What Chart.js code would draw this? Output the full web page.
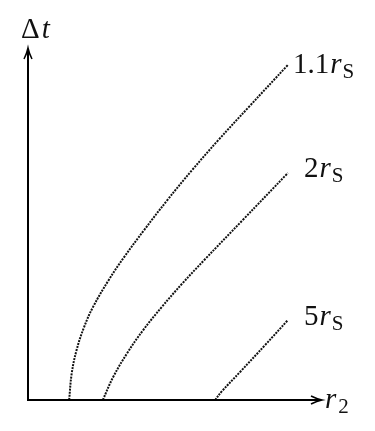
<!DOCTYPE html>
<html>
<head>
<meta charset="utf-8">
<script src="https://cdn.jsdelivr.net/npm/chart.js@4"></script>
<style>
  html, body { margin: 0; padding: 0; background: #fff; }
  #wrap { width: 375px; height: 431px; }
</style>
</head>
<body>
<div id="wrap"><canvas id="myChart"></canvas></div>
<script>
// r2 in units of r_S, delta t in units of r_S/c
const r2_a = [1.10, 1.17, 1.30, 1.50, 1.74, 2.16, 2.57, 3.11, 3.73, 4.39, 5.09, 5.90, 6.95];
const dt_a = [0.00, 0.72, 1.34, 1.95, 2.49, 3.21, 3.82, 4.55, 5.35, 6.15, 6.95, 7.83, 8.96];

const r2_b = [2.00, 2.28, 2.65, 3.08, 3.58, 4.13, 4.72, 5.74, 6.95];
const dt_b = [0.00, 0.62, 1.25, 1.87, 2.49, 3.12, 3.75, 4.81, 6.07];

const r2_c = [5.00, 5.19, 5.67, 6.34, 6.95];
const dt_c = [0.00, 0.24, 0.75, 1.47, 2.14];

const curveNames = ['1.1', '2', '5'];
const xMax = 7.86;
const yMax = 9.41;

const SERIF = '"Liberation Serif", "DejaVu Serif", "Times New Roman", serif';

function toPoints(xs, ys) {
  return xs.map((x, i) => ({ x: x, y: ys[i] }));
}

const lineStyle = {
  showLine: true,
  borderColor: '#111',
  borderWidth: 2,
  borderDash: [2, 1.1],
  pointRadius: 0,
  fill: false,
  tension: 0.4,
};

// where each label sits relative to the end of its curve
const labelOffsets = [[5, 8], [16, 4], [16, 5]];

function drawArrowHead(ctx, x, y, dir) {
  // dir: 'up' or 'right'
  ctx.beginPath();
  if (dir === 'up') {
    ctx.moveTo(x - 4, y + 11);
    ctx.quadraticCurveTo(x - 1, y + 5, x, y);
    ctx.quadraticCurveTo(x + 1, y + 5, x + 4, y + 11);
  } else {
    ctx.moveTo(x - 11, y - 4);
    ctx.quadraticCurveTo(x - 5, y - 1, x, y);
    ctx.quadraticCurveTo(x - 5, y + 1, x - 11, y + 4);
  }
  ctx.stroke();
}

function drawSubLabel(ctx, x, y, main, sub) {
  ctx.textBaseline = 'alphabetic';
  ctx.textAlign = 'left';
  ctx.font = '29px ' + SERIF;
  ctx.fillText(main, x, y);
  let w = ctx.measureText(main).width + 1;
  ctx.font = 'italic 29px ' + SERIF;
  ctx.fillText('r', x + w, y);
  w += ctx.measureText('r').width + 1;
  ctx.font = '21px ' + SERIF;
  ctx.fillText(sub, x + w, y + 5);
}

const axesPlugin = {
  id: 'axesPlugin',
  afterDraw(chart) {
    const ctx = chart.ctx;
    const sx = chart.scales.x;
    const sy = chart.scales.y;
    const x0 = sx.getPixelForValue(0);
    const y0 = sy.getPixelForValue(0);
    const x1 = sx.getPixelForValue(xMax);
    const y1 = sy.getPixelForValue(yMax);

    ctx.save();
    ctx.strokeStyle = '#000';
    ctx.fillStyle = '#111';
    ctx.lineWidth = 2;
    ctx.beginPath();
    ctx.moveTo(x0, y1 + 2);
    ctx.lineTo(x0, y0);
    ctx.lineTo(x1 - 2, y0);
    ctx.stroke();
    ctx.lineWidth = 1.5;
    drawArrowHead(ctx, x0, y1, 'up');
    drawArrowHead(ctx, x1, y0, 'right');

    // axis titles
    ctx.textBaseline = 'alphabetic';
    ctx.textAlign = 'left';
    ctx.font = '29px ' + SERIF;
    ctx.fillText('\u0394', x0 - 7, y1 - 10);
    let w = ctx.measureText('\u0394').width;
    ctx.font = 'italic 29px ' + SERIF;
    ctx.fillText('t', x0 - 5 + w, y1 - 10);

    ctx.font = 'italic 29px ' + SERIF;
    ctx.fillText('r', x1 + 3, y0 + 8);
    w = ctx.measureText('r').width;
    ctx.font = '21px ' + SERIF;
    ctx.fillText('2', x1 + 5 + w, y0 + 13);

    // curve labels
    chart.data.datasets.forEach((ds, i) => {
      const last = ds.data[ds.data.length - 1];
      const px = sx.getPixelForValue(last.x) + labelOffsets[i][0];
      const py = sy.getPixelForValue(last.y) + labelOffsets[i][1];
      drawSubLabel(ctx, px, py, curveNames[i], 'S');
    });
    ctx.restore();
  },
};

new Chart(document.getElementById('myChart'), {
  type: 'scatter',
  data: {
    datasets: [
      Object.assign({ label: '1.1 rS', data: toPoints(r2_a, dt_a) }, lineStyle),
      Object.assign({ label: '2 rS', data: toPoints(r2_b, dt_b) }, lineStyle),
      Object.assign({ label: '5 rS', data: toPoints(r2_c, dt_c) }, lineStyle),
    ],
  },
  options: {
    responsive: true,
    maintainAspectRatio: false,
    animation: false,
    layout: {
      padding: { left: 28, right: 53, top: 48, bottom: 31 },
    },
    plugins: {
      legend: { display: false },
      tooltip: { enabled: false },
    },
    scales: {
      x: { type: 'linear', min: 0, max: xMax, display: false },
      y: { type: 'linear', min: 0, max: yMax, display: false },
    },
  },
  plugins: [axesPlugin],
});
</script>
</body>
</html>
